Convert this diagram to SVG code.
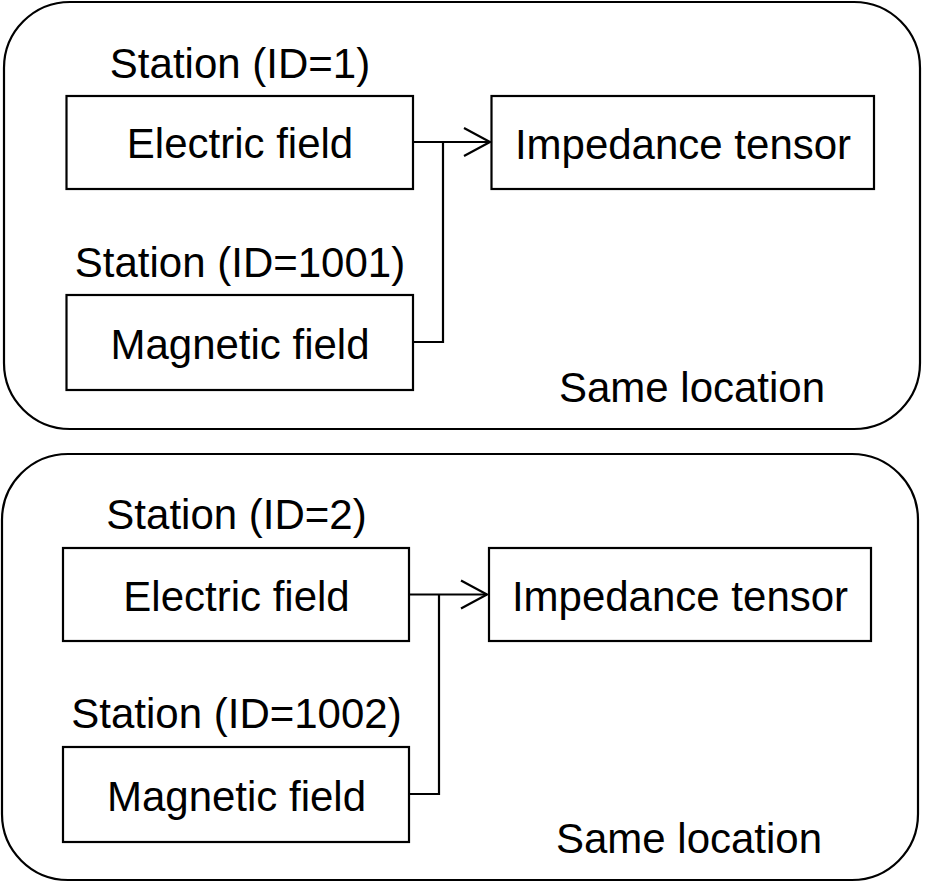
<svg xmlns="http://www.w3.org/2000/svg" width="925" height="882" viewBox="0 0 925 882">
<defs>
<style>
.frame{fill:none;stroke:#000;stroke-width:2.2}
.box{fill:#fff;stroke:#000;stroke-width:2.2}
.t{font-family:"Liberation Sans",Arial,sans-serif;font-size:42px;fill:#000;text-anchor:middle}
.wire{fill:none;stroke:#000;stroke-width:2.2}
</style>
<marker id="arr" markerUnits="userSpaceOnUse" markerWidth="30" markerHeight="34" refX="27" refY="15" orient="auto" viewBox="0 0 30 30">
<path d="M1,1 L27,15 L1,29" fill="none" stroke="#000" stroke-width="2.2"/>
</marker>
</defs>
<rect width="925" height="882" fill="#fff"/>

<g id="panel1">
<rect class="frame" x="4" y="2" width="916" height="427" rx="66" ry="66"/>
<text class="t" x="692" y="402">Same location</text>
</g>
<g id="station1-label"><text class="t" x="240" y="78">Station (ID=1)</text></g>
<g id="electric1">
<rect class="box" x="66.5" y="96" width="346.5" height="93"/>
<text class="t" x="240" y="158">Electric field</text>
</g>
<g id="station1001-label"><text class="t" x="240" y="277">Station (ID=1001)</text></g>
<g id="magnetic1">
<rect class="box" x="66.5" y="295" width="346.5" height="95"/>
<text class="t" x="240" y="359">Magnetic field</text>
</g>
<g id="impedance1">
<rect class="box" x="491.5" y="96" width="382.5" height="93"/>
<text class="t" x="683" y="159">Impedance tensor</text>
</g>

<g id="panel2">
<rect class="frame" x="2" y="454" width="916" height="426" rx="66" ry="66"/>
<text class="t" x="689" y="853">Same location</text>
</g>
<g id="station2-label"><text class="t" x="236.5" y="529">Station (ID=2)</text></g>
<g id="electric2">
<rect class="box" x="63" y="548" width="346" height="93"/>
<text class="t" x="236.5" y="611">Electric field</text>
</g>
<g id="station1002-label"><text class="t" x="236.5" y="728">Station (ID=1002)</text></g>
<g id="magnetic2">
<rect class="box" x="63" y="747" width="346" height="95"/>
<text class="t" x="236.5" y="811">Magnetic field</text>
</g>
<g id="impedance2">
<rect class="box" x="489" y="548" width="382" height="93"/>
<text class="t" x="680" y="611">Impedance tensor</text>
</g>

<g id="connectors">
<path class="wire" d="M413,142 L490,142" marker-end="url(#arr)"/>
<path class="wire" d="M413,342 L443,342 L443,142"/>
<path class="wire" d="M409,594.5 L487,594.5" marker-end="url(#arr)"/>
<path class="wire" d="M409,794 L439,794 L439,594.5"/>
</g>
</svg>
